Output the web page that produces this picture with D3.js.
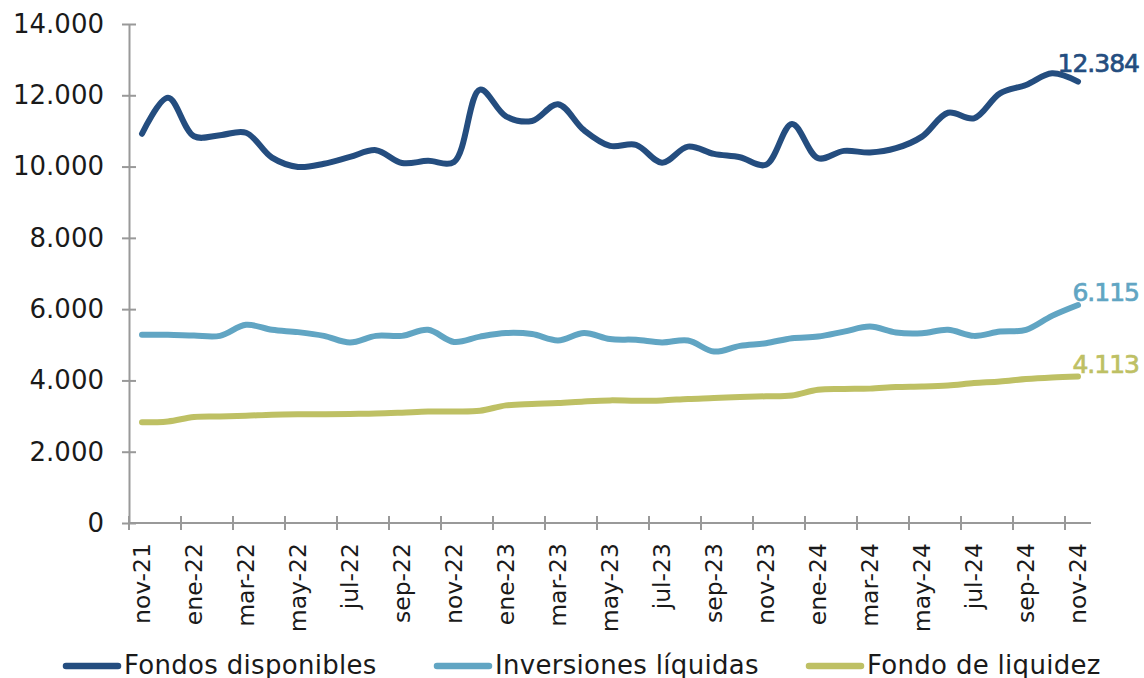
<!DOCTYPE html>
<html>
<head>
<meta charset="utf-8">
<script src="https://cdn.jsdelivr.net/npm/d3@7"></script>
<style>
  body { margin: 0; background: #fff; }
  text { font-family: "DejaVu Sans", sans-serif; }
</style>
</head>
<body>
<div id="chart"></div>
<script>
// Months (nov-21 .. nov-24)
var months = ["nov-21","dic-21","ene-22","feb-22","mar-22","abr-22","may-22","jun-22","jul-22","ago-22","sep-22","oct-22",
  "nov-22","dic-22","ene-23","feb-23","mar-23","abr-23","may-23","jun-23","jul-23","ago-23","sep-23","oct-23",
  "nov-23","dic-23","ene-24","feb-24","mar-24","abr-24","may-24","jun-24","jul-24","ago-24","sep-24","oct-24","nov-24"];

var fondosDisponibles = [10920, 11930, 10850, 10880, 10950, 10250, 9990, 10080, 10270, 10460, 10100, 10160,
  10130, 12160, 11410, 11280, 11750, 11020, 10580, 10610, 10110, 10560, 10355, 10260,
  10050, 11195, 10235, 10440, 10395, 10515, 10840, 11510, 11355, 12055, 12290, 12615, 12384];

var inversionesLiquidas = [5280, 5280, 5260, 5250, 5560, 5420, 5355, 5250, 5065, 5250, 5250, 5420,
  5080, 5230, 5330, 5300, 5120, 5330, 5160, 5140, 5065, 5120, 4810, 4970,
  5045, 5185, 5230, 5370, 5510, 5345, 5325, 5420, 5250, 5370, 5420, 5810, 6115];

var fondoLiquidez = [2824, 2850, 2975, 2990, 3010, 3040, 3050, 3050, 3060, 3070, 3095, 3125,
  3130, 3150, 3300, 3340, 3365, 3410, 3440, 3430, 3440, 3480, 3505, 3535,
  3555, 3580, 3740, 3760, 3770, 3815, 3830, 3860, 3925, 3970, 4040, 4085, 4113];

var yTicks = [0, 2000, 4000, 6000, 8000, 10000, 12000, 14000];

var seriesNames = ["Fondos disponibles", "Inversiones líquidas", "Fondo de liquidez"];
var seriesColors = ["#244d7f", "#61a5c3", "#bec064"];

// Layout
var svgWidth = 1144;
var svgHeight = 678;
var margin = { top: 24, right: 53, bottom: 155, left: 129 };
var chartWidth = svgWidth - margin.left - margin.right;
var chartHeight = svgHeight - margin.top - margin.bottom;

var svg = d3.select("#chart")
  .append("svg")
  .attr("width", svgWidth)
  .attr("height", svgHeight);

var chartGroup = svg.append("g")
  .attr("transform", `translate(${margin.left}, ${margin.top})`);

var xBand = d3.scaleBand()
  .domain(months)
  .range([0, chartWidth]);

var yScale = d3.scaleLinear()
  .domain([0, 14000])
  .range([chartHeight, 0]);

var fmt = d => d3.format(",")(d).replace(/,/g, ".");
var axisColor = "#999";

// Y axis (ticks crossing the line)
var leftAxis = d3.axisLeft(yScale)
  .tickValues(yTicks)
  .tickFormat(fmt)
  .tickSizeInner(7)
  .tickSizeOuter(0)
  .tickPadding(18);

var yAxisG = chartGroup.append("g").call(leftAxis);
yAxisG.select(".domain").attr("stroke", axisColor).attr("stroke-width", 2);
yAxisG.selectAll(".tick line").attr("stroke", axisColor).attr("stroke-width", 2).attr("x2", 7).attr("x1", -7);
yAxisG.selectAll(".tick text").attr("font-size", 26).attr("fill", "#1a1a1a")
  .attr("font-family", "DejaVu Sans, sans-serif");

// X axis: tick marks every two months on band boundaries
var xAxisG = chartGroup.append("g")
  .attr("transform", `translate(0, ${chartHeight})`);

xAxisG.append("line")
  .attr("x1", 0).attr("x2", chartWidth)
  .attr("stroke", axisColor).attr("stroke-width", 2);

var tickMonths = months.filter((d, i) => i % 2 === 0);

xAxisG.selectAll(".xtick")
  .data(tickMonths)
  .enter()
  .append("line")
  .attr("x1", d => xBand(d)).attr("x2", d => xBand(d))
  .attr("y1", -7).attr("y2", 7)
  .attr("stroke", axisColor).attr("stroke-width", 2);

xAxisG.selectAll(".xlabel")
  .data(tickMonths)
  .enter()
  .append("text")
  .attr("transform", d => `translate(${xBand(d) + xBand.bandwidth() / 2 + 8}, 20) rotate(-90)`)
  .attr("text-anchor", "end")
  .attr("font-size", 23.5)
  .attr("fill", "#1a1a1a")
  .text(d => d);

// Lines
var allSeries = [fondosDisponibles, inversionesLiquidas, fondoLiquidez];

var line = d3.line()
  .x((d, i) => xBand(months[i]) + xBand.bandwidth() / 2)
  .y(d => yScale(d))
  .curve(d3.curveCatmullRom.alpha(0.5));

chartGroup.selectAll(".series")
  .data(allSeries)
  .enter()
  .append("path")
  .attr("d", d => line(d))
  .attr("fill", "none")
  .attr("stroke", (d, i) => seriesColors[i])
  .attr("stroke-width", 6)
  .attr("stroke-linecap", "round")
  .attr("stroke-linejoin", "round");

// End labels
var lastMonth = months[months.length - 1];
var labelOffsets = [-10, -4, -3];
chartGroup.selectAll(".endlabel")
  .data(allSeries)
  .enter()
  .append("text")
  .attr("x", xBand(lastMonth) + xBand.bandwidth() / 2 + 61)
  .attr("y", (d, i) => yScale(d[d.length - 1]) + labelOffsets[i])
  .attr("text-anchor", "end")
  .attr("font-size", 25)
  .attr("letter-spacing", -1)
  .attr("fill", (d, i) => seriesColors[i])
  .attr("stroke", (d, i) => seriesColors[i])
  .attr("stroke-width", 0.7)
  .text(d => fmt(d[d.length - 1]));

// Legend
var legendX = [63, 434, 806];
var legend = svg.selectAll(".legend")
  .data(seriesNames)
  .enter()
  .append("g")
  .attr("transform", (d, i) => `translate(${legendX[i]}, 666)`);

legend.append("line")
  .attr("x1", 3).attr("x2", 55)
  .attr("stroke", (d, i) => seriesColors[i])
  .attr("stroke-width", 6.5)
  .attr("stroke-linecap", "round");

legend.append("text")
  .attr("x", 61)
  .attr("y", 8)
  .attr("font-size", 26)
  .attr("letter-spacing", 0.3)
  .attr("fill", "#1a1a1a")
  .text(d => d);
</script>
</body>
</html>
